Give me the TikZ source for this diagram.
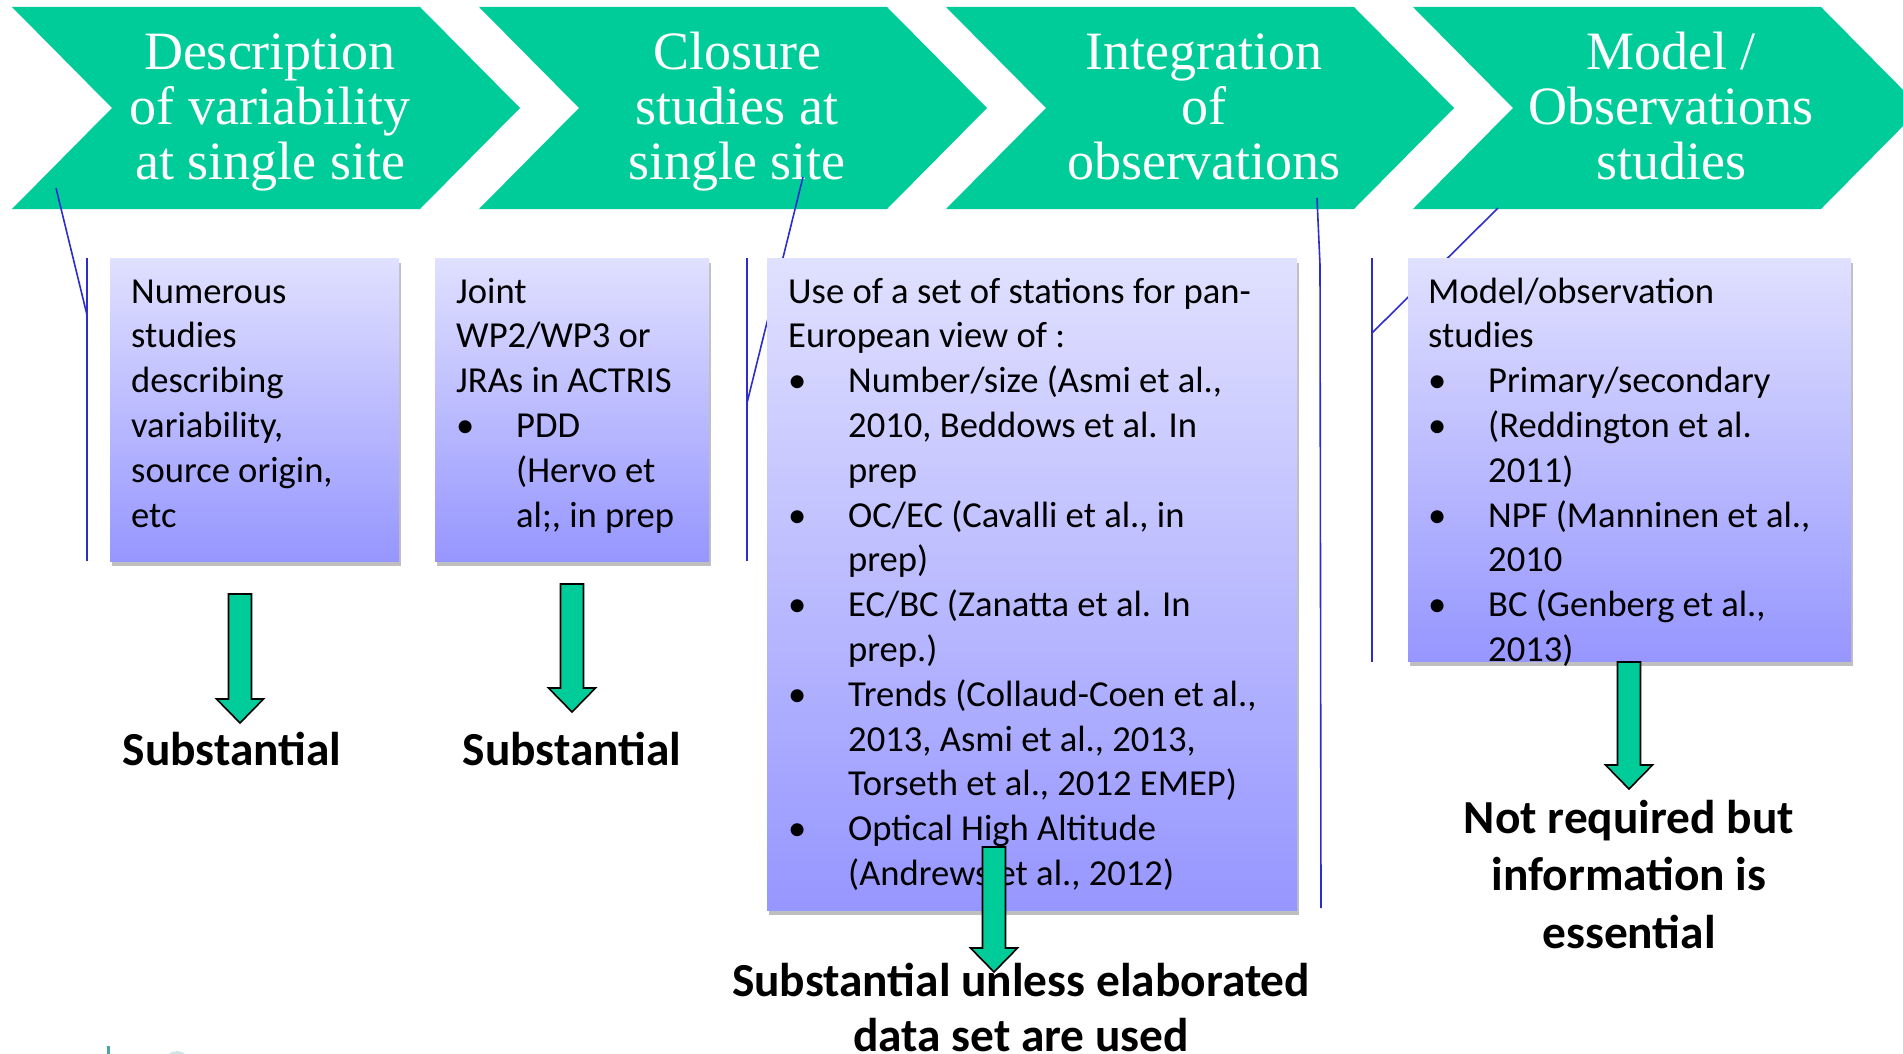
\documentclass[tikz,border=0pt]{standalone}
\usepackage{fontspec}
\setmainfont{Liberation Serif}
\newfontfamily\calib{Carlito}
\usepackage{xcolor}
\definecolor{ChevGreen}{RGB}{0,204,153}
\definecolor{BoxTop}{RGB}{224,224,255}
\definecolor{BoxBot}{RGB}{150,150,255}
\definecolor{LinkBlue}{RGB}{45,45,205}
\usepackage{tikz}
\usetikzlibrary{calc, shadows}
% bullet and hanging indent inside the boxes
\newcommand{\bul}{\makebox[60pt][l]{\textbullet}}
\newcommand{\ind}{\hspace*{60pt}}
% block arrow from a start coordinate down to a tip coordinate
\newcommand{\blockarrow}[2]{%
  \draw[blockarr] ($(#1)+(-11.5,0)$) -- ($(#1)+(11.5,0)$) -- ($(#2)+(11.5,-24)$)
    -- ($(#2)+(23.5,-24)$) -- (#2) -- ($(#2)+(-23.5,-24)$) -- ($(#2)+(-11.5,-24)$) -- cycle;}

\begin{document}
\begin{tikzpicture}[x=1pt, y=-1pt,
    chev/.style={fill=ChevGreen},
    chevtext/.style={text=white, align=center, anchor=base, inner sep=0pt,
      font=\fontsize{54}{55}\selectfont},
    infobox/.style={anchor=north west, inner sep=0pt, top color=BoxTop, bottom color=BoxBot,
      drop shadow={shadow xshift=2pt, shadow yshift=-5pt, opacity=0.25, fill=black}},
    infotext/.style={anchor=base west, align=left, inner sep=0pt,
      font=\calib\fontsize{36.6}{44.8}\selectfont},
    verdict/.style={anchor=base, align=center, inner sep=0pt,
      font=\calib\bfseries\fontsize{47.4}{57.5}\selectfont},
    bracket/.style={draw=LinkBlue, line width=1.6pt},
    blockarr/.style={fill=ChevGreen, draw=black, line width=1.6pt, line join=miter}]
  \useasboundingbox (0,0) rectangle (1903,1054);
  \clip (0,0) rectangle (1903,1054);

  % Chevrons along the top (text placed by its last baseline)
  \foreach \x/\txt [count=\i] in {12/{Description\\of variability\\at single site},
      479/{Closure\\studies at\\single site},
      946/{Integration\\of\\observations},
      1413/{Model /\\Observations\\studies}} {
    \fill[chev] (\x,7) -- ++(408,0) -- ++(100,101) -- ++(-100,101) -- ++(-408,0) -- ++(100,-101) -- cycle;
    \node[chevtext] (c\i) at (\x+258,179) {\txt};
  }

  % Blue brackets
  \draw[bracket] (56,188) -- (87,315);
  \draw[bracket] (87,258) -- (87,561);
  \draw[bracket] (803,177) -- (747,403);
  \draw[bracket] (747,258) -- (747,561);
  \draw[bracket] (1317,198) -- (1320,265) -- (1321,908);
  \draw[bracket] (1498,208) -- (1372,333);
  \draw[bracket] (1372,258) -- (1372,662);

  % Boxes
  \node[infobox, minimum width=289pt, minimum height=303pt] (b1) at (110,258) {};
  \node[infobox, minimum width=274pt, minimum height=303pt] (b2) at (435,258) {};
  \node[infobox, minimum width=530pt, minimum height=652pt] (b3) at (767,258) {};
  \node[infobox, minimum width=443pt, minimum height=403pt] (b4) at (1408,258) {};

  \node[infotext] (t1) at ($(b1.north west)+(21,45+5*44.8)$) {Numerous\\studies\\describing\\variability,\\source origin,\\etc};
  \node[infotext] (t2) at ($(b2.north west)+(21,45+5*44.8)$) {Joint\\WP2/WP3 or\\JRAs in ACTRIS\\\bul PDD\\\ind (Hervo et\\\ind al;, in prep};
  \node[infotext] (t3) at ($(b3.north west)+(21,45+13*44.8)$) {Use of a set of stations for pan-\\European view of :\\
    \bul Number/size (Asmi et al.,\\\ind 2010, Beddows et al. In\\\ind prep\\
    \bul OC/EC (Cavalli et al., in\\\ind prep)\\
    \bul EC/BC (Zanatta et al. In\\\ind prep.)\\
    \bul Trends (Collaud-Coen et al.,\\\ind 2013, Asmi et al., 2013,\\\ind Torseth et al., 2012 EMEP)\\
    \bul Optical High Altitude\\\ind (Andrews et al., 2012)};
  \node[infotext] (t4) at ($(b4.north west)+(20,45+8*44.8)$) {Model/observation\\studies\\\bul Primary/secondary\\
    \bul (Reddington et al.\\\ind 2011)\\\bul NPF (Manninen et al.,\\\ind 2010\\
    \bul BC (Genberg et al.,\\\ind 2013)};

  % Verdicts (placed by their last baseline)
  \node[verdict] (v1) at (232,765) {Substantial};
  \node[verdict] (v2) at (572,765) {Substantial};
  \node[verdict, font=\calib\bfseries\fontsize{47.4}{55}\selectfont] (v3) at (1021,1051) {Substantial unless elaborated\\data set are used};
  \node[verdict] (v4) at (1629,948) {Not required but\\information is\\essential};

  % Arrows
  \coordinate (a1) at (240,594);  \coordinate (a1t) at (240,723);
  \coordinate (a2) at (572,584);  \coordinate (a2t) at (572,712);
  \coordinate (a3) at (994,847);  \coordinate (a3t) at (994,972);
  \coordinate (a4) at (1629,662); \coordinate (a4t) at (1629,789);
  \blockarrow{a1}{a1t}
  \blockarrow{a2}{a2t}
  \blockarrow{a3}{a3t}
  \blockarrow{a4}{a4t}

  % Logo fragment at the bottom edge
  \fill[teal!70] (107,1046) rectangle (109.5,1054);
  \fill[teal!20] (177,1064) circle (13);
\end{tikzpicture}
\end{document}
